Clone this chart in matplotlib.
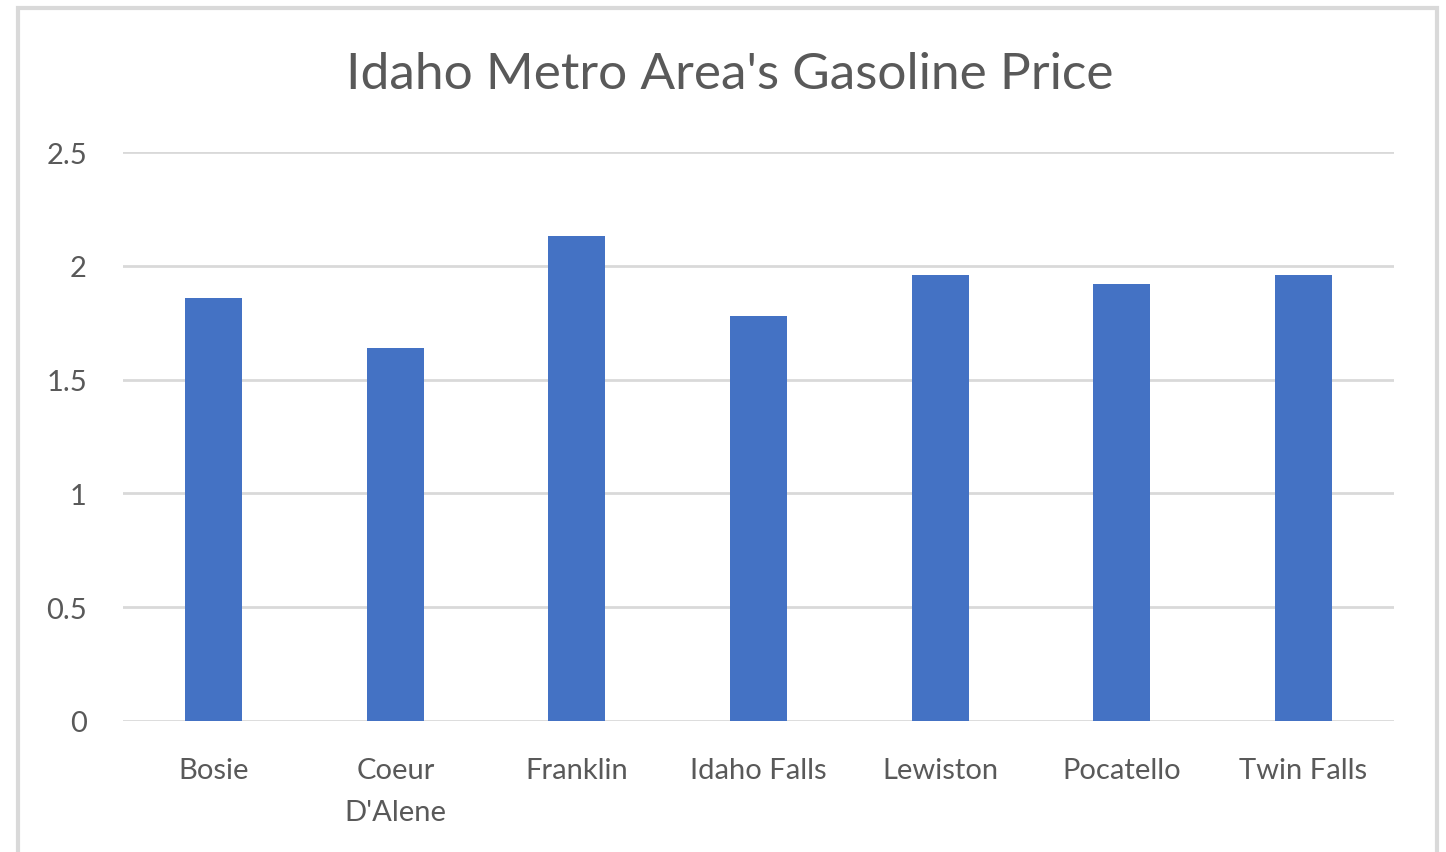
import matplotlib.pyplot as plt
from matplotlib.patches import Rectangle
import numpy as np

plt.rcParams['font.family'] = ['Lato', 'DejaVu Sans']

cities = ["Bosie", "Coeur\nD'Alene", "Franklin", "Idaho Falls", "Lewiston", "Pocatello", "Twin Falls"]
prices = [1.86, 1.64, 2.13, 1.78, 1.96, 1.92, 1.96]
yticks = [0, 0.5, 1, 1.5, 2, 2.5]

txt = '#595959'
fig = plt.figure(figsize=(14.46, 8.53), dpi=100)
ax = fig.add_axes([123 / 1446, 1 - 722 / 853, 1271 / 1446, 569 / 853])

x = np.arange(len(cities))
ax.bar(x, prices, width=0.314, color='#4472C4', zorder=3)

ax.set_xlim(-0.5, len(cities) - 0.5)
ax.set_ylim(0, 2.5)
ax.set_yticks(yticks)
ax.set_yticklabels([f'{v:g}' for v in yticks])
ax.set_xticks(x)
ax.set_xticklabels(cities, linespacing=1.75)
ax.grid(axis='y', color='#d9d9d9', linewidth=2, zorder=0)
ax.tick_params(length=0, labelcolor=txt, labelsize=21)
ax.tick_params(axis='x', pad=26)
ax.tick_params(axis='y', pad=26)
for s in ax.spines.values():
    s.set_visible(False)

fig.text(0.505, 0.912, "Idaho Metro Area's Gasoline Price", ha='center', va='center',
         fontsize=37, color=txt)

fig.patches.append(Rectangle((18 / 1446, -0.05), 1419 / 1446, 1.04, transform=fig.transFigure,
                             fill=False, edgecolor='#d9d9d9', linewidth=3))

fig.savefig('out.png', dpi=100)
